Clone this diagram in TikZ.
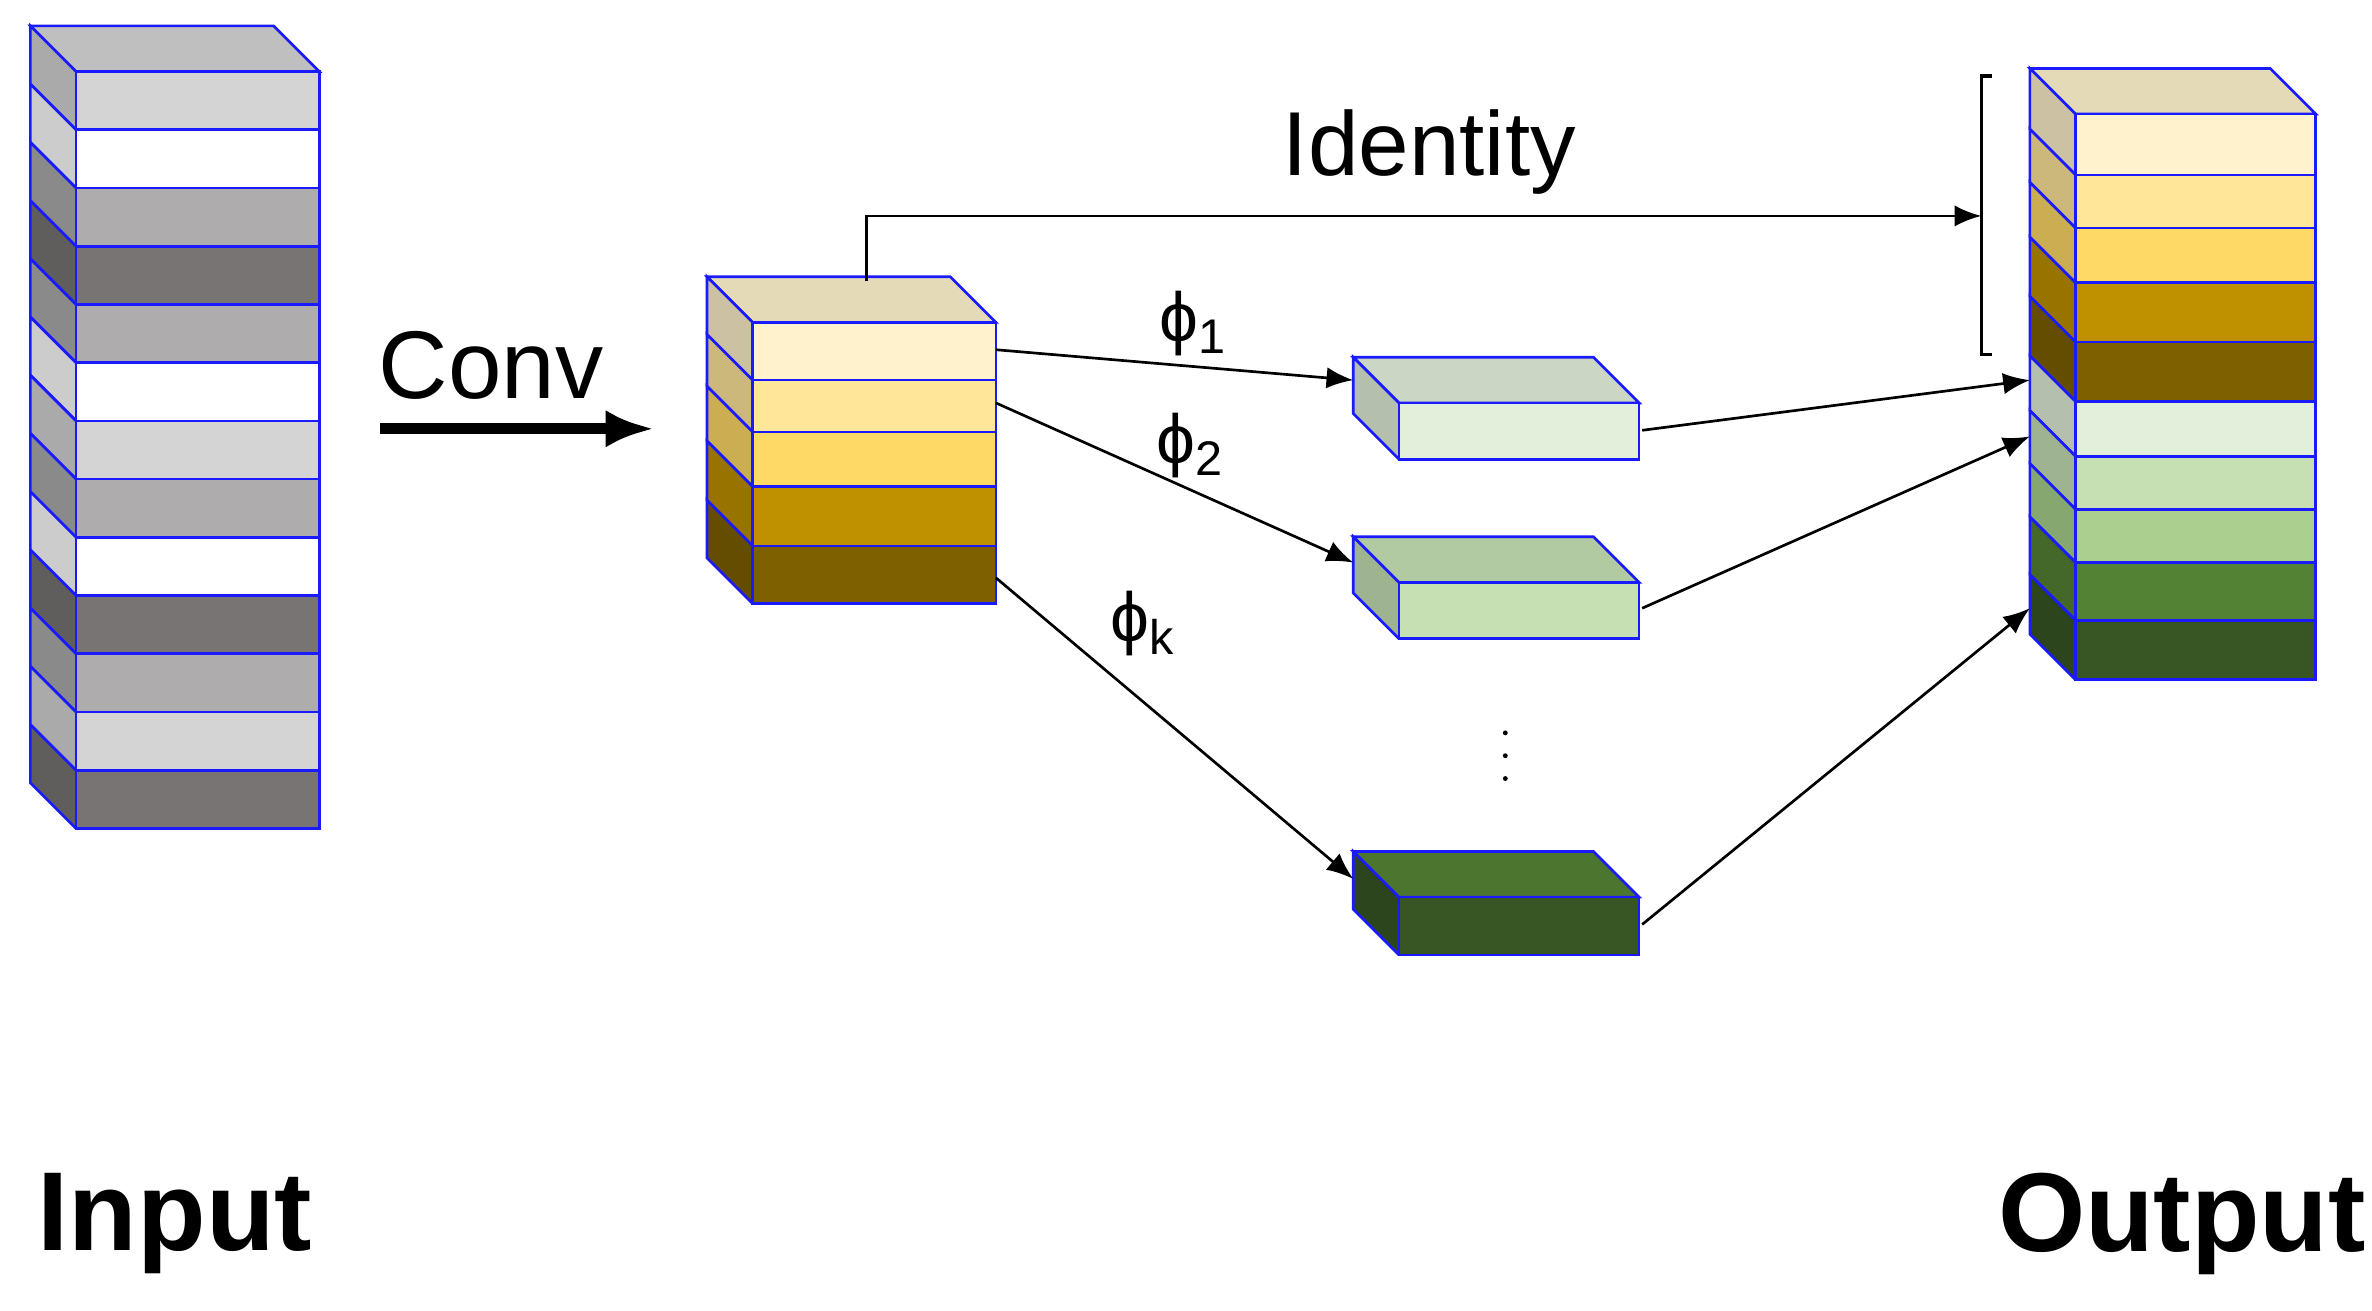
\documentclass[tikz,border=0pt]{standalone}
\usepackage{fontspec}
\setmainfont{Liberation Sans}
\usetikzlibrary{arrows.meta}
\definecolor{edge}{HTML}{1A1AFF}
\definecolor{lg}{HTML}{D4D4D4}
\definecolor{mg}{HTML}{AEACAC}
\definecolor{dg}{HTML}{787474}
\definecolor{y1}{HTML}{FFF2CC}
\definecolor{y2}{HTML}{FFE699}
\definecolor{y3}{HTML}{FFD966}
\definecolor{y4}{HTML}{BF9000}
\definecolor{y5}{HTML}{7F6000}
\definecolor{g1}{HTML}{E2EFDA}
\definecolor{g2}{HTML}{C6E0B4}
\definecolor{g3}{HTML}{A9D08E}
\definecolor{g4}{HTML}{548235}
\definecolor{g5}{HTML}{375623}
\newcommand\myslab[5]{%
  \fill[#5!80!black] (#1,#3)--(#1-\dd,#3-\dd)--(#1-\dd,#4-\dd)--(#1,#4)--cycle;
  \draw[edge,line width=0.5pt] (#1,#3)--(#1-\dd,#3-\dd)--(#1-\dd,#4-\dd)--(#1,#4);
  \filldraw[fill=#5,draw=edge,line width=0.5pt] (#1,#3) rectangle (#2,#4);}
\newcommand\mytop[4]{%
  \filldraw[fill=#4!90!black,draw=edge,line width=0.5pt] (#1,#3)--(#1-\dd,#3-\dd)--(#2-\dd,#3-\dd)--(#2,#3)--cycle;}
\begin{document}
\begin{tikzpicture}[x=0.1mm,y=-0.1mm,
  con/.style={-{Latex[length=5pt,width=4pt]},line width=0.5pt},
  lab/.style={font=\fontsize{13}{13}\selectfont}]
\useasboundingbox (0,0) rectangle (1560,862);
\def\dd{30}
\mytop{50}{210}{47}{lg}
\foreach \c [count=\i from 0] in {lg,white,mg,dg,mg,white,lg,mg,white,dg,mg,lg,dg}{
  \pgfmathsetmacro\ya{47+\i*38.3}\pgfmathsetmacro\yb{47+(\i+1)*38.3}
  \myslab{50}{210}{\ya}{\yb}{\c}}
\mytop{495}{655}{212}{y1}
\foreach \c/\ya/\yb in {y1/212/250,y2/250/284,y3/284/320,y4/320/359,y5/359/397}{
  \myslab{495}{655}{\ya}{\yb}{\c}}
\mytop{920}{1078}{265}{g1}\myslab{920}{1078}{265}{302}{g1}
\mytop{920}{1078}{383}{g2}\myslab{920}{1078}{383}{420}{g2}
\mytop{920}{1078}{590}{g4}\myslab{920}{1078}{590}{628}{g5}
\mytop{1365}{1523}{75}{y1}
\foreach \c/\ya/\yb in {y1/75/115,y2/115/150,y3/150/186,y4/186/225,y5/225/264,g1/264/300,g2/300/335,g3/335/370,g4/370/408,g5/408/447}{
  \myslab{1365}{1523}{\ya}{\yb}{\c}}
\coordinate (m0) at (570,185);
\coordinate (m1) at (655,230);
\coordinate (m2) at (655,265);
\coordinate (m3) at (655,380);
\coordinate (b1i) at (890,250); \coordinate (b1o) at (1080,283);
\coordinate (b2i) at (890,370); \coordinate (b2o) at (1080,400);
\coordinate (b3i) at (890,578); \coordinate (b3o) at (1080,608);
\coordinate (o1) at (1335,250); \coordinate (o2) at (1335,287); \coordinate (o3) at (1335,400);
\coordinate (br) at (1303,142);
\coordinate (cv1) at (250,282); \coordinate (cv2) at (430,282);
\draw[con] (m0) |- (br);
\draw[line width=0.6pt] (1310,50) -- (1303,50) -- (1303,233) -- (1310,233);
\draw[con] (m1) -- (b1i);
\draw[con] (m2) -- (b2i);
\draw[con] (m3) -- (b3i);
\draw[con] (b1o) -- (o1);
\draw[con] (b2o) -- (o2);
\draw[con] (b3o) -- (o3);
\draw[-{Latex[length=9pt,width=7pt]},line width=2pt] (cv1) -- (cv2);
\node[font=\fontsize{18}{18}\selectfont] (conv) at (323,240) {Conv};
\node[font=\fontsize{17}{17}\selectfont] (id) at (940,100) {Identity};
\node[lab] (p1) at (785,213) {ϕ\textsubscript{1}};
\node[lab] (p2) at (783,293) {ϕ\textsubscript{2}};
\node[lab] (pk) at (752,410) {ϕ\textsubscript{k}};
\foreach \yy in {482,497,512} \fill (990,\yy) circle (1.6);
\node[font=\bfseries\fontsize{21}{21}\selectfont] (in) at (115,805) {Input};
\node[font=\bfseries\fontsize{21}{21}\selectfont] (out) at (1435,805) {Output};
\end{tikzpicture}
\end{document}
